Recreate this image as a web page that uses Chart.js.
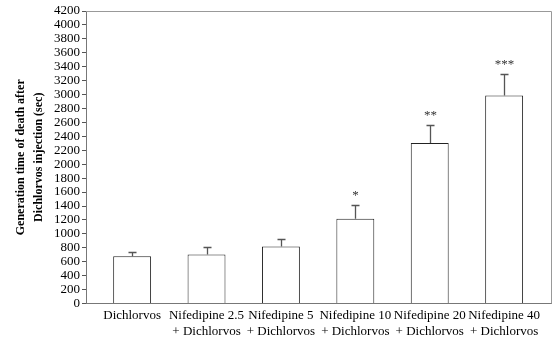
<!DOCTYPE html>
<html>
<head>
<meta charset="utf-8">
<script src="https://cdn.jsdelivr.net/npm/chart.js@4"></script>
<style>
  body { margin: 0; background: #fff; }
  #wrap { width: 559px; height: 340px; }
</style>
</head>
<body>
<div id="wrap"><canvas id="myChart" width="559" height="340"></canvas></div>
<script>
const categories = [
  'Dichlorvos',
  ['Nifedipine 2.5', '+ Dichlorvos'],
  ['Nifedipine 5', '+ Dichlorvos'],
  ['Nifedipine 10', '+ Dichlorvos'],
  ['Nifedipine 20', '+ Dichlorvos'],
  ['Nifedipine 40', '+ Dichlorvos']
];
const meanValues = [680, 705, 820, 1218, 2306, 2988];
const errorValues = [58, 110, 110, 192, 250, 302];
const significance = ['', '', '', '*', '**', '***'];

Chart.defaults.font.family = "'Liberation Serif', 'Times New Roman', serif";
Chart.defaults.font.size = 13;
Chart.defaults.color = '#000';

// upper whiskers, stars and the frame on top/right
const errorPlugin = {
  id: 'errorBars',
  afterDatasetsDraw(chart) {
    const ctx = chart.ctx;
    const y = chart.scales.y;
    const area = chart.chartArea;
    const meta = chart.getDatasetMeta(0);
    ctx.save();
    ctx.strokeStyle = '#555';
    ctx.lineWidth = 1.3;
    meta.data.forEach((bar, i) => {
      const x = Math.round(bar.x) + 0.5;
      const yTop = y.getPixelForValue(meanValues[i]);
      const yErr = y.getPixelForValue(meanValues[i] + errorValues[i]);
      ctx.beginPath();
      ctx.moveTo(x, yTop);
      ctx.lineTo(x, Math.round(yErr) + 0.5);
      ctx.moveTo(x - 4, Math.round(yErr) + 0.5);
      ctx.lineTo(x + 4, Math.round(yErr) + 0.5);
      ctx.stroke();
      if (significance[i]) {
        ctx.fillStyle = '#333';
        ctx.font = "13px 'Liberation Serif', serif";
        ctx.textAlign = 'center';
        ctx.textBaseline = 'bottom';
        ctx.fillText(significance[i], x, yErr - 3);
      }
    });
    ctx.strokeStyle = '#999';
    ctx.lineWidth = 1;
    ctx.beginPath();
    ctx.moveTo(area.left, area.top + 0.5);
    ctx.lineTo(area.right + 0.5, area.top + 0.5);
    ctx.lineTo(area.right + 0.5, area.bottom);
    ctx.stroke();
    ctx.restore();
  }
};

let myChart = document.getElementById('myChart').getContext('2d');
let deathChart = new Chart(myChart, {
  type: 'bar',
  data: {
    datasets: [{
      data: meanValues.map((v, i) => ({ x: i, y: v })),
      backgroundColor: '#fff',
      borderColor: '#222',
      borderWidth: 1,
      barPercentage: 0.98,
      categoryPercentage: 0.52
    }]
  },
  options: {
    responsive: false,
    animation: false,
    layout: { padding: { top: 11, right: 8, left: 12, bottom: -4 } },
    plugins: {
      legend: { display: false },
      tooltip: { enabled: false }
    },
    scales: {
      x: {
        type: 'linear',
        min: -0.62,
        max: 5.63,
        offset: false,
        afterBuildTicks: (scale) => {
          scale.ticks = categories.map((c, i) => ({ value: i }));
        },
        grid: { display: false, drawTicks: false },
        border: { color: '#777' },
        ticks: {
          font: { size: 13, lineHeight: 1.25 },
          padding: 4,
          maxRotation: 0,
          autoSkip: false,
          callback: (v) => categories[v]
        }
      },
      y: {
        min: 0,
        max: 4200,
        ticks: {
          stepSize: 200,
          font: { size: 13 },
          padding: 2,
          autoSkip: false,
          callback: (v) => String(v)
        },
        grid: { drawOnChartArea: false, drawTicks: true, tickLength: 4, color: '#555' },
        border: { color: '#777' },
        title: {
          display: true,
          text: ['Generation time of death after', 'Dichlorvos injection (sec)'],
          font: { size: 12, weight: 'bold', lineHeight: 1.5 },
          padding: { top: 0, bottom: 4 }
        }
      }
    }
  },
  plugins: [errorPlugin]
});
</script>
</body>
</html>
